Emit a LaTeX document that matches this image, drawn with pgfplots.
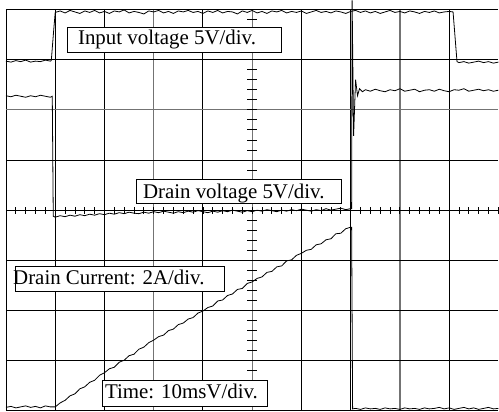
\documentclass[border=0pt]{standalone}
\usepackage{pgfplots}
\pgfplotsset{compat=1.18}
\usepackage{fontspec}
\setmainfont{Liberation Serif}
\begin{document}
\begin{tikzpicture}
\begin{axis}[scale only axis, width=493bp, height=402bp,
  xmin=0, xmax=10, ymin=0, ymax=8, hide axis, clip=false]
% grid
\pgfplotsinvokeforeach{0,1,2,4,6,7,9}{\draw[black, line width=0.9pt] (axis cs:#1,0) -- (axis cs:#1,8);}
\pgfplotsinvokeforeach{3,5,8}{\draw[black!55, line width=1.3pt] (axis cs:#1,0) -- (axis cs:#1,8);}
\pgfplotsinvokeforeach{0,1,2,3,4,5,7,8}{\draw[black, line width=0.9pt] (axis cs:0,#1) -- (axis cs:10,#1);}
\draw[black!55, line width=1.3pt] (axis cs:0,6) -- (axis cs:10,6);
% centre ticks
\pgfplotsinvokeforeach{0.2,0.4,...,9.9}{\draw[black, line width=0.8pt] (axis cs:#1,3.93) -- (axis cs:#1,4.07);}
\pgfplotsinvokeforeach{0.2,0.4,...,7.9}{\draw[black, line width=0.8pt] (axis cs:4.9,#1) -- (axis cs:5.1,#1);}
% boxes
\draw[fill=white, line width=0.9pt] (axis cs:1.258,7.144) rectangle (axis cs:5.598,7.642);
\node[anchor=base west, inner sep=0pt, font=\fontsize{21}{24}\selectfont] at (axis cs:1.46,7.303) {Input voltage 5V/div.};
\draw[fill=white, line width=0.9pt] (axis cs:2.657,4.139) rectangle (axis cs:6.815,4.617);
\node[anchor=base west, inner sep=0pt, font=\fontsize{21}{24}\selectfont] at (axis cs:2.779,4.233) {Drain voltage 5V/div.};
\draw[fill=white, line width=0.9pt] (axis cs:0.183,2.388) rectangle (axis cs:4.442,2.886);
\node[anchor=base west, inner sep=0pt, font=\fontsize{21}{24}\selectfont] at (axis cs:0.142,2.514) {Drain Current: 2A/div.};
\draw[fill=white, line width=0.9pt] (axis cs:1.968,0.080) rectangle (axis cs:5.314,0.597);
\node[anchor=base west, inner sep=0pt, font=\fontsize{21}{24}\selectfont] at (axis cs:2.008,0.245) {Time: 10msV/div.};
% Input voltage
\addplot[black, line width=0.8pt] coordinates {
(0,6.97)(0.1,6.95)(0.2,6.98)(0.3,6.96)(0.4,6.99)(0.5,6.95)(0.6,6.97)(0.7,6.96)(0.8,6.99)(0.9,6.97)(0.92,6.98)(0.97,7.6)(1.0,7.94)
(1.1,7.97)(1.2,7.93)(1.3,7.98)(1.4,7.95)(1.5,7.92)(1.6,7.97)(1.7,7.94)(1.8,7.98)(1.9,7.93)(2.0,7.96)
(2.1,7.92)(2.2,7.97)(2.3,7.95)(2.4,7.99)(2.5,7.93)(2.6,7.96)(2.7,7.94)(2.8,7.91)(2.9,7.97)(3.0,7.95)
(3.1,7.98)(3.2,7.93)(3.3,7.96)(3.4,7.92)(3.5,7.97)(3.6,7.95)(3.7,7.98)(3.8,7.94)(3.9,7.96)(4.0,7.92)
(4.1,7.97)(4.2,7.94)(4.3,7.98)(4.4,7.93)(4.5,7.96)(4.6,7.95)(4.7,7.91)(4.8,7.97)(4.9,7.94)(5.0,7.98)
(5.1,7.93)(5.2,7.96)(5.3,7.92)(5.4,7.97)(5.5,7.95)(5.6,7.98)(5.7,7.93)(5.8,7.96)(5.9,7.94)(6.0,7.97)
(6.1,7.92)(6.2,7.95)(6.3,7.98)(6.4,7.94)(6.5,7.96)(6.6,7.93)(6.7,7.97)(6.8,7.95)(6.9,7.92)(7.0,7.96)
(7.1,7.98)(7.2,7.94)(7.3,7.97)(7.4,7.93)(7.5,7.96)(7.6,7.92)(7.7,7.95)(7.8,7.98)(7.9,7.94)(8.0,7.96)
(8.1,7.93)(8.2,7.97)(8.3,7.95)(8.4,7.92)(8.5,7.96)(8.6,7.94)(8.7,7.97)(8.8,7.93)(8.9,7.95)(9.0,7.96)
(9.08,7.95)(9.16,6.96)(9.2,6.94)(9.3,6.96)(9.4,6.93)(9.5,6.95)(9.6,6.97)(9.7,6.94)(9.8,6.96)(9.9,6.93)(10,6.95)
};
% Drain voltage
\addplot[black, line width=0.8pt] coordinates {
(0,6.28)(0.1,6.26)(0.2,6.29)(0.3,6.27)(0.4,6.25)(0.5,6.28)(0.6,6.26)(0.7,6.29)(0.8,6.27)(0.9,6.25)(0.94,6.27)(0.96,3.88)
(1.0,3.86)(1.1,3.89)(1.2,3.87)(1.3,3.90)(1.4,3.88)(1.5,3.91)(1.6,3.89)(1.7,3.92)(1.8,3.90)(1.9,3.93)(2.0,3.91)
(2.1,3.94)(2.2,3.92)(2.3,3.95)(2.4,3.93)(2.5,3.96)(2.6,3.94)(2.7,3.93)(2.8,3.96)(2.9,3.94)(3.0,3.97)
(3.1,3.95)(3.2,3.98)(3.3,3.96)(3.4,3.94)(3.5,3.97)(3.6,3.95)(3.7,3.98)(3.8,3.96)(3.9,3.99)(4.0,3.97)
(4.1,3.95)(4.2,3.98)(4.3,3.96)(4.4,3.99)(4.5,3.97)(4.6,4.00)(4.7,3.98)(4.8,3.96)(4.9,3.99)(5.0,3.97)
(5.1,4.00)(5.2,3.98)(5.3,4.01)(5.4,3.99)(5.5,3.97)(5.6,4.00)(5.7,3.98)(5.8,4.01)(5.9,3.99)(6.0,4.02)
(6.1,4.00)(6.2,3.98)(6.3,4.01)(6.4,3.99)(6.5,4.03)(6.6,4.00)(6.7,4.02)(6.8,4.04)(6.9,4.01)(7.0,4.03)
(7.02,4.03)(7.03,8.18)(7.06,5.48)(7.1,6.6)(7.14,6.28)(7.18,6.42)(7.24,6.36)
(7.3,6.40)(7.4,6.37)(7.5,6.41)(7.6,6.38)(7.7,6.36)(7.8,6.40)(7.9,6.38)(8.0,6.42)
(8.1,6.37)(8.2,6.39)(8.3,6.41)(8.4,6.36)(8.5,6.39)(8.6,6.40)(8.7,6.37)(8.8,6.41)(8.9,6.38)(9.0,6.36)
(9.1,6.40)(9.2,6.39)(9.3,6.42)(9.4,6.37)(9.5,6.39)(9.6,6.41)(9.7,6.38)(9.8,6.40)(9.9,6.37)(10,6.39)
};
% Drain current
\addplot[black, line width=0.8pt] coordinates {
(0,0.07)(0.1,0.09)(0.2,0.06)(0.3,0.08)(0.4,0.10)(0.5,0.07)(0.6,0.09)(0.7,0.06)(0.8,0.10)(0.9,0.08)(1.0,0.08)
(1.1,0.16)(1.2,0.21)(1.3,0.30)(1.4,0.34)(1.5,0.44)(1.6,0.48)(1.7,0.57)(1.8,0.61)(1.9,0.71)(2.0,0.76)
(2.1,0.84)(2.2,0.87)(2.3,0.97)(2.4,1.01)(2.5,1.10)(2.6,1.13)(2.7,1.23)(2.8,1.27)(2.9,1.36)(3.0,1.41)
(3.1,1.48)(3.2,1.51)(3.3,1.60)(3.4,1.63)(3.5,1.72)(3.6,1.75)(3.7,1.83)(3.8,1.86)(3.9,1.95)(4.0,1.99)
(4.1,2.06)(4.2,2.09)(4.3,2.19)(4.4,2.21)(4.5,2.30)(4.6,2.33)(4.7,2.42)(4.8,2.44)(4.9,2.54)(5.0,2.57)
(5.1,2.64)(5.2,2.67)(5.3,2.76)(5.4,2.78)(5.5,2.87)(5.6,2.89)(5.7,2.99)(5.8,3.01)(5.9,3.10)(6.0,3.14)
(6.1,3.20)(6.2,3.22)(6.3,3.31)(6.4,3.33)(6.5,3.41)(6.6,3.43)(6.7,3.53)(6.8,3.54)(6.9,3.63)(7.0,3.66)
(7.02,3.66)(7.04,0.04)(7.1,0.05)(7.2,0.03)(7.3,0.06)(7.4,0.04)(7.5,0.05)(7.6,0.03)(7.7,0.06)(7.8,0.04)(7.9,0.05)
(8.0,0.03)(8.1,0.06)(8.2,0.04)(8.3,0.05)(8.4,0.03)(8.5,0.06)(8.6,0.04)(8.7,0.05)(8.8,0.07)(8.9,0.04)
(9.0,0.06)(9.1,0.03)(9.2,0.05)(9.3,0.07)(9.4,0.04)(9.5,0.06)(9.6,0.03)(9.7,0.05)(9.8,0.07)(9.9,0.04)(10,0.05)
};
\end{axis}
\path (-6bp,-1bp) rectangle (493bp,411bp);
\end{tikzpicture}
\end{document}
